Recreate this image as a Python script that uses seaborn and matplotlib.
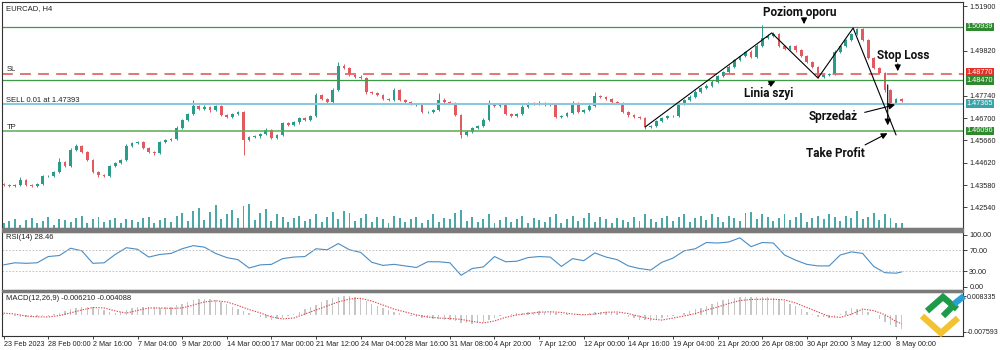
import matplotlib
matplotlib.use("Agg")
import matplotlib.pyplot as plt
from matplotlib.patches import Rectangle
from matplotlib.lines import Line2D
import numpy as np
import pandas as pd
import seaborn as sns

sns.set_theme(style="white")
plt.rcParams['font.family'] = ['Liberation Sans Narrow', 'Liberation Sans', 'DejaVu Sans']

# ---------------- data ----------------
symbol = "EURCAD, H4"
first_open = 1.4362
close = [1.4358, 1.4353, 1.4358, 1.4381, 1.4358, 1.4353, 1.4362, 1.4400, 1.4400, 1.4418,
         1.4465, 1.4446, 1.4521, 1.4539, 1.4511, 1.4474, 1.4418, 1.4404, 1.4400, 1.4446,
         1.4460, 1.4474, 1.4539, 1.4553, 1.4558, 1.4530, 1.4511, 1.4507, 1.4558, 1.4567,
         1.4572, 1.4623, 1.4660, 1.4688, 1.4726, 1.4712, 1.4721, 1.4707, 1.4726, 1.4684,
         1.4674, 1.4688, 1.4698, 1.4567, 1.4581, 1.4586, 1.4595, 1.4614, 1.4577, 1.4591,
         1.4646, 1.4637, 1.4651, 1.4670, 1.4660, 1.4679, 1.4777, 1.4758, 1.4744, 1.4800,
         1.4912, 1.4903, 1.4870, 1.4861, 1.4856, 1.4791, 1.4786, 1.4777, 1.4758, 1.4754,
         1.4800, 1.4754, 1.4744, 1.4735, 1.4735, 1.4698, 1.4698, 1.4707, 1.4754, 1.4744,
         1.4740, 1.4684, 1.4591, 1.4605, 1.4623, 1.4633, 1.4660, 1.4730, 1.4726, 1.4735,
         1.4688, 1.4679, 1.4688, 1.4721, 1.4740, 1.4735, 1.4740, 1.4730, 1.4735, 1.4674,
         1.4679, 1.4693, 1.4740, 1.4698, 1.4707, 1.4726, 1.4772, 1.4768, 1.4758, 1.4744,
         1.4740, 1.4698, 1.4684, 1.4674, 1.4670, 1.4628, 1.4633, 1.4656, 1.4670, 1.4679,
         1.4679, 1.4735, 1.4754, 1.4768, 1.4791, 1.4810, 1.4819, 1.4837, 1.4865, 1.4884,
         1.4907, 1.4940, 1.4958, 1.4977, 1.4954, 1.5005, 1.5042, 1.5052, 1.5061, 1.5005,
         1.4991, 1.5005, 1.4986, 1.4958, 1.4931, 1.4907, 1.4861, 1.4870, 1.4875, 1.4977,
         1.5005, 1.5033, 1.5061, 1.5084, 1.5033, 1.4949, 1.4903, 1.4879, 1.4800, 1.4740,
         1.4758, 1.4749]
wick_up_pips = [4, 3, 5, 14, 4, 3, 5, 6, 4, 5,
                19, 6, 8, 10, 4, 5, 6, 4, 5, 7,
                5, 6, 8, 5, 6, 4, 5, 4, 7, 5,
                6, 8, 6, 7, 28, 6, 8, 7, 6, 5,
                5, 7, 6, 6, 5, 7, 6, 8, 4, 6,
                7, 5, 6, 5, 7, 6, 10, 6, 5, 8,
                19, 8, 5, 6, 7, 5, 6, 4, 5, 6,
                12, 5, 6, 7, 5, 6, 5, 6, 33, 7,
                5, 6, 5, 7, 6, 5, 8, 23, 7, 6,
                5, 6, 7, 8, 6, 5, 7, 6, 5, 4,
                6, 7, 9, 5, 6, 7, 19, 6, 5, 7,
                6, 5, 4, 6, 5, 4, 6, 7, 5, 6,
                6, 8, 6, 7, 8, 6, 7, 8, 6, 7,
                8, 7, 6, 5, 9, 8, 61, 7, 8, 5,
                6, 7, 5, 6, 4, 5, 6, 7, 6, 8,
                7, 6, 6, 5, 6, 5, 7, 5, 6, 5,
                6, 5]
wick_dn_pips = [5, 4, 3, 5, 4, 6, 3, 4, 5, 4,
                5, 6, 4, 5, 6, 5, 4, 7, 6, 4,
                5, 4, 6, 5, 4, 6, 5, 7, 4, 5,
                4, 5, 6, 5, 4, 6, 5, 7, 5, 6,
                5, 6, 4, 70, 6, 5, 7, 4, 6, 5,
                4, 6, 5, 7, 5, 6, 4, 6, 5, 4,
                5, 6, 4, 5, 6, 7, 5, 6, 4, 5,
                4, 6, 5, 4, 7, 5, 6, 5, 4, 6,
                5, 6, 15, 5, 6, 4, 5, 6, 5, 4,
                6, 5, 4, 6, 5, 4, 6, 5, 4, 6,
                5, 6, 4, 5, 7, 5, 4, 6, 5, 4,
                6, 5, 7, 5, 4, 8, 5, 6, 4, 5,
                4, 5, 6, 4, 5, 6, 4, 5, 6, 4,
                5, 4, 6, 5, 7, 5, 4, 6, 5, 4,
                6, 5, 7, 5, 6, 5, 5, 6, 5, 4,
                5, 6, 4, 5, 5, 6, 5, 6, 10, 19,
                5, 4]
volume = [4, 6, 8, 3, 7, 9, 4, 6, 10, 3,
          8, 7, 5, 9, 11, 4, 8, 10, 5, 7,
          9, 4, 8, 7, 5, 9, 10, 4, 7, 9,
          5, 11, 13, 6, 15, 18, 7, 14, 20, 8,
          12, 16, 9, 19, 21, 7, 13, 17, 6, 12,
          10, 5, 9, 11, 6, 8, 12, 5, 10, 14,
          8, 15, 13, 6, 9, 12, 5, 10, 8, 4,
          11, 9, 5, 8, 10, 4, 7, 12, 5, 9,
          8, 13, 16, 6, 10, 5, 8, 12, 4, 7,
          10, 5, 8, 11, 4, 9, 7, 5, 10, 12,
          4, 8, 11, 6, 9, 13, 5, 10, 8, 4,
          9, 7, 5, 10, 6, 12, 8, 5, 9, 11,
          6, 10, 12, 5, 9, 11, 7, 12, 10, 5,
          11, 9, 6, 13, 14, 8, 12, 10, 6, 9,
          12, 7, 10, 13, 5, 9, 11, 8, 12, 10,
          6, 11, 9, 15, 8, 10, 13, 7, 12, 9,
          4, 4]
rsi_vals = [42, 46, 45, 46, 58, 60, 74, 69, 45, 46,
            62, 75, 72, 57, 62, 64, 73, 79, 76, 64,
            56, 52, 36, 42, 43, 54, 57, 58, 73, 71,
            83, 71, 66, 47, 41, 43, 40, 37, 48, 48,
            46, 22, 35, 38, 58, 48, 49, 56, 58, 57,
            39, 54, 50, 65, 57, 52, 40, 35, 32, 47,
            55, 69, 73, 85, 84, 86, 94, 77, 85, 84,
            61, 51, 43, 40, 40, 61, 67, 64, 39, 27,
            26, 28.46]
signal_vals = [0.0007, 0.0003, -0.0006, -0.0010, -0.0010, -0.0004, 0.0008, 0.0021, 0.0032, 0.0030,
               0.0017, 0.0007, 0.0019, 0.0030, 0.0030, 0.0028, 0.0030, 0.0043, 0.0057, 0.0062,
               0.0057, 0.0041, 0.0023, 0.0008, -0.0010, -0.0019, -0.0015, 0.0003, 0.0021, 0.0039,
               0.0057, 0.0070, 0.0073, 0.0061, 0.0043, 0.0025, 0.0012, -0.0001, -0.0010, -0.0015,
               -0.0017, -0.0021, -0.0030, -0.0037, -0.0028, -0.0012, -0.0001, 0.0005, 0.0011, 0.0013,
               0.0010, 0.0003, -0.0001, 0.0003, 0.0011, 0.0012, 0.0005, -0.0008, -0.0019, -0.0024,
               -0.0015, -0.0006, 0.0005, 0.0021, 0.0034, 0.0050, 0.0063, 0.0068, 0.0069, 0.0069,
               0.0066, 0.0052, 0.0032, 0.0012, -0.0008, -0.0012, 0.0002, 0.0025, 0.0018, 0.0000,
               -0.0030, -0.004088]
macd_vals = [0.0003, -0.0002, -0.0007, -0.0009, -0.0011, -0.0011, -0.0011, -0.0008, -0.0005, 0.0002,
             0.0009, 0.0016, 0.0024, 0.0030, 0.0036, 0.0035, 0.0034, 0.0027, 0.0019, 0.0014,
             0.0008, 0.0014, 0.0021, 0.0028, 0.0034, 0.0034, 0.0034, 0.0033, 0.0032, 0.0033,
             0.0034, 0.0042, 0.0049, 0.0057, 0.0065, 0.0069, 0.0071, 0.0068, 0.0065, 0.0056,
             0.0047, 0.0036, 0.0026, 0.0018, 0.0009, -0.0001, -0.0011, -0.0017, -0.0022, -0.0020,
             -0.0017, -0.0007, 0.0003, 0.0014, 0.0024, 0.0034, 0.0045, 0.0055, 0.0066, 0.0073,
             0.0081, 0.0083, 0.0084, 0.0077, 0.0070, 0.0059, 0.0049, 0.0039, 0.0029, 0.0021,
             0.0014, 0.0006, -0.0001, -0.0006, -0.0011, -0.0014, -0.0017, -0.0018, -0.0020, -0.0022,
             -0.0024, -0.0029, -0.0035, -0.0039, -0.0043, -0.0037, -0.0032, -0.0023, -0.0014, -0.0007,
             -0.0001, 0.0003, 0.0006, 0.0009, 0.0013, 0.0014, 0.0015, 0.0013, 0.0011, 0.0008,
             0.0003, 0.0001, -0.0001, 0.0001, 0.0003, 0.0008, 0.0013, 0.0013, 0.0014, 0.0010,
             0.0006, -0.0001, -0.0009, -0.0015, -0.0022, -0.0025, -0.0028, -0.0022, -0.0017, -0.0012,
             -0.0007, -0.0001, 0.0006, 0.0015, 0.0024, 0.0032, 0.0039, 0.0048, 0.0057, 0.0066,
             0.0072, 0.0075, 0.0078, 0.0079, 0.0079, 0.0079, 0.0079, 0.0078, 0.0076, 0.0068,
             0.0060, 0.0049, 0.0037, 0.0025, 0.0014, 0.0002, -0.0009, -0.0012, -0.0014, -0.0007,
             0.0002, 0.0016, 0.0029, 0.0026, 0.0021, 0.0010, 0.0000, -0.0018, -0.0034, -0.0045,
             -0.0055, -0.00621]
date_labels = ["23 Feb 2023", "28 Feb 00:00", "2 Mar 16:00", "7 Mar 04:00", "9 Mar 20:00",
               "14 Mar 00:00", "17 Mar 00:00", "21 Mar 12:00", "24 Mar 04:00", "28 Mar 16:00",
               "31 Mar 08:00", "4 Apr 20:00", "7 Apr 12:00", "12 Apr 00:00", "14 Apr 16:00",
               "19 Apr 04:00", "21 Apr 20:00", "26 Apr 08:00", "30 Apr 20:00", "3 May 12:00",
               "8 May 00:00"]
price_ticks = [1.51900, 1.49820, 1.47740, 1.46700, 1.45660, 1.44620, 1.43580, 1.42540]
resistance = 1.50939
stop_loss = 1.48770
neckline = 1.48470
sell_price = 1.47365
take_profit = 1.46096
rsi_ticks = [0, 30, 70, 100]
macd_ticks = [0.008335, -0.007593]
pattern_idx = [115.0, 137.7, 146.0, 152.3, 160.0]
pattern_price = [1.4628, 1.5066, 1.4856, 1.5089, 1.4591]

# ---------------- derived ----------------
n = len(close)
idx = np.arange(n)
c = np.array(close)
o = np.array([first_open] + close[:-1])
hi = np.maximum(o, c) + np.array(wick_up_pips) * 0.0001
lo = np.minimum(o, c) - np.array(wick_dn_pips) * 0.0001
up = c >= o
bull, bear = "#2a9d8a", "#e05a5f"
fs = 5.2

fig = plt.figure(figsize=(10, 3.5), dpi=100)
fig.patch.set_facecolor("white")
L, W = 0.002, 0.961
ax = fig.add_axes([L, 1 - 228 / 350, W, 226 / 350])
ax_rsi = fig.add_axes([L, 1 - 290 / 350, W, 58 / 350], sharex=ax)
ax_macd = fig.add_axes([L, 1 - 336 / 350, W, 44 / 350], sharex=ax)
xlim = (-0.3, 172.0)

# volume (overlay at bottom of main panel)
ax_vol = ax.twinx()
ax_vol.bar(idx, volume, width=0.35, color="#4aa8a8", linewidth=0)
ax_vol.set_ylim(0, max(volume) * 9.5)
ax_vol.set_yticks([])
for s in ax_vol.spines.values():
    s.set_visible(False)

# candles
ax.vlines(idx, lo, hi, color=np.where(up, bull, bear), linewidth=0.7)
tiny = np.abs(c - o) < 0.00012
ax.bar(idx, np.where(tiny, 0.00012, c - o), bottom=np.where(tiny, c - 0.00006, o), width=0.5,
       color=np.where(up, bull, bear), linewidth=0)

# levels
ax.axhline(resistance, color="#3f9a45", lw=0.9)
ax.axhline(stop_loss, color="#e06a6a", lw=1.3, dashes=(6, 4))
ax.axhline(neckline, color="#3f9a45", lw=0.9)
ax.axhline(sell_price, color="#8cc8dc", lw=1.5)
ax.axhline(take_profit, color="#5aab55", lw=1.1)

# pattern lines
ax.plot(pattern_idx, pattern_price, color="black", lw=0.8)
ax.annotate("", xy=(158.5, 1.4623), xytext=(158.5, 1.4837),
            arrowprops=dict(arrowstyle="-|>", color="black", lw=0.8, mutation_scale=9))

bold = dict(fontsize=8.5, fontweight="bold", color="#111111", family="Roboto",
            ha="center", va="center")
ax.text(142.8, 1.5163, "Poziom oporu", **bold)
ax.text(161.2, 1.4963, "Stop Loss", **bold)
ax.text(137.2, 1.4786, "Linia szyi", **bold)
ax.text(148.7, 1.4675, "Sprzedaż", **bold)
ax.text(149.2, 1.4507, "Take Profit", **bold)
ap = dict(arrowstyle="-|>", color="black", lw=0.8, mutation_scale=9)
ax.annotate("", xy=(143.5, 1.5094), xytext=(143.5, 1.5142), arrowprops=ap)
ax.annotate("", xy=(160.3, 1.4875), xytext=(160.3, 1.4935), arrowprops=ap)
ax.annotate("", xy=(138.8, 1.4847), xytext=(136.7, 1.4821), arrowprops=ap)
ax.annotate("", xy=(160.3, 1.4735), xytext=(153.9, 1.4693), arrowprops=ap)
ax.annotate("", xy=(158.9, 1.4605), xytext=(154.0, 1.4539), arrowprops=ap)

small = dict(fontsize=5.5, color="#222222", va="center", ha="left")
ax.text(0.004, 0.972, symbol, transform=ax.transAxes, **small)
ax.text(0.5, stop_loss + 0.0017, "SL", **small)
ax.text(0.5, sell_price + 0.0017, "SELL 0.01 at 1.47393", **small)
ax.text(0.5, take_profit + 0.0017, "TP", **small)

ax.set_xlim(*xlim)
ax.set_ylim(1.4158, 1.5210)
ax.yaxis.tick_right()
ax.set_yticks(price_ticks)
ax.set_yticklabels([f"{p:.5f}" for p in price_ticks])
ax.tick_params(axis="y", right=True, left=False, length=3, width=0.6, pad=1.5,
               labelsize=fs, colors="#222222")
ax.tick_params(axis="x", bottom=False, labelbottom=False)

tr = ax.get_yaxis_transform()
for val, col, dy in [(resistance, "#2f8a2f", 0), (stop_loss, "#e0302a", 0.6),
                     (neckline, "#2f8a2f", -0.6), (sell_price, "#3aa3a8", 0),
                     (take_profit, "#2f8a2f", 0)]:
    ax.annotate(f"{val:.5f}", xy=(1.0, val), xycoords=tr, xytext=(2.5, dy),
                textcoords="offset points", fontsize=fs, color="white",
                va="center", ha="left", annotation_clip=False,
                bbox=dict(facecolor=col, edgecolor="none", pad=0.6))

# RSI
rsi_idx = list(range(0, n - 1, 2)) + [n - 1]
sns.lineplot(x=rsi_idx, y=rsi_vals, ax=ax_rsi, color="#4a8cc4", lw=0.8)
for lvl in (30, 70):
    ax_rsi.axhline(lvl, color="#b8b8b8", lw=0.6, ls=(0, (2, 2)))
ax_rsi.set_ylim(-6.3, 105.2)
ax_rsi.yaxis.tick_right()
ax_rsi.set_yticks(rsi_ticks)
ax_rsi.set_yticklabels([f"{v:.2f}" for v in rsi_ticks])
ax_rsi.tick_params(axis="y", right=True, left=False, length=3, width=0.6, pad=1.5,
                   labelsize=fs, colors="#222222")
ax_rsi.tick_params(axis="x", bottom=False, labelbottom=False)
ax_rsi.text(0.004, 0.9, f"RSI(14) {rsi_vals[-1]:.2f}", transform=ax_rsi.transAxes, **small)

# MACD
ax_macd.bar(idx, macd_vals, width=0.25, color="#c6c6c6", linewidth=0)
sig_idx = list(range(0, n - 1, 2)) + [n - 1]
sns.lineplot(x=sig_idx, y=signal_vals, ax=ax_macd, color="#d9484a", lw=0.8,
             linestyle=(0, (1.2, 1.2)))
ax_macd.set_ylim(-0.00951, 0.01012)
ax_macd.yaxis.tick_right()
ax_macd.set_yticks(macd_ticks)
ax_macd.set_yticklabels([f"{v:.6f}" for v in macd_ticks])
ax_macd.tick_params(axis="y", right=True, left=False, length=2, width=0.6, pad=1,
                    labelsize=5.0, colors="#222222")
ax_macd.text(0.004, 0.86, f"MACD(12,26,9) {macd_vals[-1]:.6f} {signal_vals[-1]:.6f}",
             transform=ax_macd.transAxes, **small)
date_pos = list(range(0, n, 8))
ax_macd.set_xticks(date_pos)
ax_macd.set_xticklabels(date_labels, ha="left")
ax_macd.tick_params(axis="x", bottom=True, length=2, width=0.6, pad=1.5, labelsize=fs,
                    colors="#222222")
ax_macd.set_xlim(*xlim)

for a in (ax, ax_rsi, ax_macd):
    a.set_facecolor("none")
    a.grid(False)
    for s in a.spines.values():
        s.set_color("#333333")
        s.set_linewidth(0.8)
    a.set_xlabel("")
    a.set_ylabel("")

# panel separators
for y0, y1 in [(228, 232), (290, 292)]:
    fig.add_artist(Rectangle((L, 1 - y1 / 350), W, (y1 - y0) / 350,
                             transform=fig.transFigure, color="#7a7a7a", zorder=5))

# logo
def fline(pts, col, lw=4.5):
    xs = [p[0] / 1000 for p in pts]
    ys = [1 - p[1] / 350 for p in pts]
    fig.add_artist(Line2D(xs, ys, transform=fig.transFigure, color=col, lw=lw,
                          solid_capstyle="butt", solid_joinstyle="miter", zorder=10))

fline([(922, 316), (941, 333), (958, 318)], "#f2c230")
fline([(927, 311), (943, 297), (957, 309)], "#1e9a4a")
fline([(943, 316), (955, 304)], "#1e9a4a")
fline([(954, 304), (964, 296)], "#2a9fd8")

fig.savefig("out.png", dpi=100)
